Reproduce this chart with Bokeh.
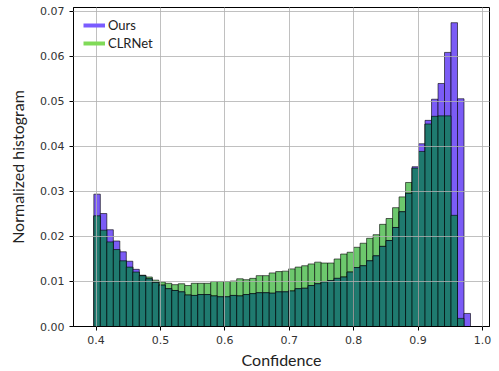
import numpy as np
from bokeh.plotting import figure
from bokeh.models import ColumnDataSource, Range1d, FixedTicker, PrintfTickFormatter, Legend, LegendItem
from bokeh.embed import file_html
from bokeh.resources import INLINE

# histogram bins (58 bins over the confidence range)
bin_edges = np.linspace(0.3966, 0.9815, 59)

ours = [0.0294, 0.0251, 0.0215, 0.0190, 0.0166, 0.0145, 0.0127, 0.0113, 0.0106, 0.0098,
        0.0092, 0.0084, 0.0080, 0.0077, 0.0070, 0.0069, 0.0071, 0.0071, 0.0068, 0.0066,
        0.0066, 0.0069, 0.0068, 0.0071, 0.0073, 0.0075, 0.0075, 0.0074, 0.0077, 0.0077,
        0.0079, 0.0084, 0.0085, 0.0091, 0.0095, 0.0099, 0.0102, 0.0107, 0.0110, 0.0121,
        0.0131, 0.0135, 0.0146, 0.0157, 0.0178, 0.0191, 0.0220, 0.0255, 0.0296, 0.0355,
        0.0406, 0.0458, 0.0505, 0.0540, 0.0609, 0.0675, 0.0506, 0.0029]

clrnet = [0.0246, 0.0214, 0.0188, 0.0171, 0.0146, 0.0132, 0.0121, 0.0114, 0.0110, 0.0103,
          0.0099, 0.0096, 0.0093, 0.0095, 0.0091, 0.0096, 0.0096, 0.0096, 0.0100, 0.0100,
          0.0100, 0.0101, 0.0106, 0.0104, 0.0107, 0.0113, 0.0113, 0.0119, 0.0122, 0.0123,
          0.0128, 0.0132, 0.0135, 0.0139, 0.0143, 0.0141, 0.0141, 0.0150, 0.0161, 0.0165,
          0.0176, 0.0185, 0.0196, 0.0204, 0.0227, 0.0240, 0.0264, 0.0288, 0.0320, 0.0352,
          0.0389, 0.0450, 0.0467, 0.0468, 0.0468, 0.0247, 0.0018, 0.0]

series_names = ["Ours", "CLRNet"]
x_ticks = [0.4, 0.5, 0.6, 0.7, 0.8, 0.9, 1.0]
y_ticks = [0.00, 0.01, 0.02, 0.03, 0.04, 0.05, 0.06, 0.07]

src = ColumnDataSource(dict(
    left=bin_edges[:-1], right=bin_edges[1:],
    ours=ours, clr=clrnet,
    both=np.minimum(np.array(ours), np.array(clrnet)),
))

p = figure(width=497, height=371, output_backend="svg", toolbar_location=None,
           x_range=Range1d(0.365, 1.011), y_range=Range1d(0, 0.07088),
           min_border_left=73, min_border_right=8, min_border_top=7, min_border_bottom=43)

PURPLE = "#7B5CF6"
GREEN = "#6DC86D"
TEAL = "#1F7A6F"

p.quad(left="left", right="right", bottom=0, top="clr", source=src,
       fill_color=GREEN, line_color="black", line_alpha=0.6, line_width=1)
p.quad(left="left", right="right", bottom=0, top="ours", source=src,
       fill_color=PURPLE, line_color="black", line_alpha=0.6, line_width=1)
p.quad(left="left", right="right", bottom=0, top="both", source=src,
       fill_color=TEAL, line_color="black", line_alpha=0.6, line_width=1)

l1 = p.line(x=[np.nan], y=[np.nan], line_color="#7A5CFF", line_width=4)
l2 = p.line(x=[np.nan], y=[np.nan], line_color="#80DA58", line_width=4)
legend = Legend(items=[LegendItem(label=series_names[0], renderers=[l1]),
                       LegendItem(label=series_names[1], renderers=[l2])],
                location="top_left", margin=0, padding=10, spacing=2,
                glyph_width=22, glyph_height=16, label_height=16, label_standoff=3,
                label_text_font="Lato", label_text_font_size="13px", label_text_color="#222222",
                background_fill_alpha=0, border_line_alpha=0)
p.add_layout(legend)

# grid on top of bars
for g in (p.xgrid, p.ygrid):
    g.level = "annotation"
    g.grid_line_color = "#b0b0b0"
    g.grid_line_alpha = 0.8
    g.grid_line_width = 1
p.xgrid.ticker = FixedTicker(ticks=x_ticks)
p.ygrid.ticker = FixedTicker(ticks=y_ticks)

p.xaxis.ticker = FixedTicker(ticks=x_ticks)
p.yaxis.ticker = FixedTicker(ticks=y_ticks)
p.xaxis.formatter = PrintfTickFormatter(format="%.1f")
p.yaxis.formatter = PrintfTickFormatter(format="%.2f")

for ax in (p.xaxis, p.yaxis):
    ax.axis_line_color = "black"
    ax.major_tick_line_color = "black"
    ax.major_tick_out = 4
    ax.major_tick_in = 0
    ax.minor_tick_line_color = None
    ax.major_label_text_font = "DejaVu Sans"
    ax.major_label_text_font_size = "11px"
    ax.major_label_text_color = "#333333"
    ax.axis_label_text_font = "Lato"
    ax.axis_label_text_font_size = "16px"
    ax.axis_label_text_font_style = "normal"
    ax.axis_label_text_color = "#222222"

p.xaxis.axis_label = "Confidence"
p.yaxis.axis_label = "Normalized histogram"
p.xaxis.major_label_standoff = 5
p.xaxis.axis_label_standoff = 3
p.yaxis.major_label_standoff = 5
p.yaxis.axis_label_standoff = 10

p.outline_line_color = "black"
p.outline_line_width = 1
p.background_fill_color = "white"
p.border_fill_color = "white"

open("out.html", "w").write(file_html(p, INLINE))
